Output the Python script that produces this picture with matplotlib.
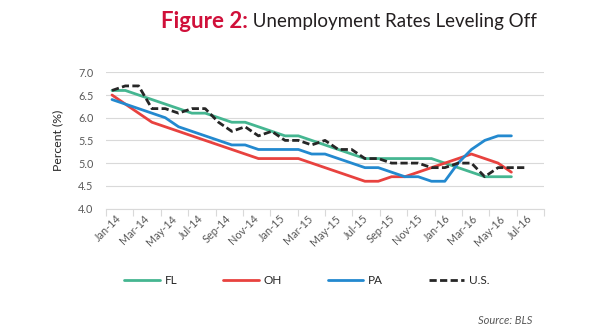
"""Unemployment rates chart: FL, OH, PA and U.S., Jan-14 to Aug-16."""

import matplotlib
import matplotlib.pyplot as plt
import numpy as np

matplotlib.use("Agg")

plt.rcParams["font.family"] = ["Lato", "DejaVu Sans"]

# monthly categories, Jan-14 .. Aug-16
MONTHS = [f"{m}-{y}" for y in ("14", "15", "16")
          for m in ("Jan", "Feb", "Mar", "Apr", "May", "Jun",
                    "Jul", "Aug", "Sep", "Oct", "Nov", "Dec")][:32]
TICK_LABELS = MONTHS[0:31:2]

FL = [6.6, 6.6, 6.5, 6.4, 6.3, 6.2, 6.1, 6.1, 6.0,
      5.9, 5.9, 5.8, 5.7, 5.6, 5.6, 5.5, 5.4, 5.3,
      5.2, 5.1, 5.1, 5.1, 5.1, 5.1, 5.1,
      5.0, 4.9, 4.8, 4.7, 4.7, 4.7]
OH = [6.5, 6.3, 6.1, 5.9, 5.8, 5.7, 5.6, 5.5, 5.4,
      5.3, 5.2, 5.1, 5.1, 5.1, 5.1,
      5.0, 4.9, 4.8, 4.7, 4.6, 4.6,
      4.7, 4.7, 4.8, 4.9, 5.0, 5.1, 5.2, 5.1, 5.0, 4.8]
PA = [6.4, 6.3, 6.2, 6.1, 6.0, 5.8, 5.7, 5.6, 5.5,
      5.4, 5.4, 5.3, 5.3, 5.3, 5.3,
      5.2, 5.2, 5.1, 5.0, 4.9, 4.9,
      4.8, 4.7, 4.7, 4.6, 4.6, 5.0, 5.3, 5.5, 5.6, 5.6]
US = [6.6, 6.7, 6.7, 6.2, 6.2, 6.1, 6.2, 6.2, 5.9,
      5.7, 5.8, 5.6, 5.7, 5.5, 5.5, 5.4, 5.5,
      5.3, 5.3, 5.1, 5.1, 5.0, 5.0, 5.0,
      4.9, 4.9, 5.0, 5.0, 4.7, 4.9, 4.9, 4.9]

SERIES = [
    ("FL", FL, "#45B691", "-"),
    ("OH", OH, "#E8423F", "-"),
    ("PA", PA, "#2389CF", "-"),
    ("U.S.", US, "#262626", "--"),
]

TEXT = "#595959"
GRID = "#D9D9D9"

fig = plt.figure(figsize=(5.96, 3.35), dpi=100)
ax = fig.add_axes([106 / 596, 1 - 208.5 / 335, 438 / 596, 136.2 / 335])

for name, values, color, style in SERIES:
    x = np.arange(len(values))
    line, = ax.plot(x, values, color=color, lw=2.0, ls=style, label=name,
                    solid_capstyle="round", dash_capstyle="butt")
    if style == "--":
        line.set_dashes((2.6, 1.2))

x0, x1 = -0.45, 32.45
ax.set_xlim(x0, x1)
ax.set_ylim(4.0, 7.0)

# tick marks every two months, labels centred between them
edges = np.linspace(x0, x1, 17)
ax.set_xticks(edges, minor=True)
ax.set_xticks((edges[:-1] + edges[1:]) / 2, TICK_LABELS)
ax.tick_params(axis="x", which="minor", length=5, color=GRID, width=0.8)
ax.tick_params(axis="x", which="major", length=0, pad=6, labelsize=7.8,
               labelcolor=TEXT)
for lab in ax.get_xticklabels():
    lab.set_rotation(45)
    lab.set_ha("right")
    lab.set_va("center")
    lab.set_rotation_mode("anchor")

ax.set_yticks(np.arange(4.0, 7.01, 0.5))
ax.set_yticklabels([f"{v:.1f}" for v in np.arange(4.0, 7.01, 0.5)])
ax.tick_params(axis="y", length=0, pad=9, labelsize=7.8, labelcolor=TEXT)
ax.grid(axis="y", color=GRID, lw=0.8)
ax.set_axisbelow(True)
for side in ("left", "right", "top"):
    ax.spines[side].set_visible(False)
ax.spines["bottom"].set_color(GRID)
ax.spines["bottom"].set_linewidth(0.8)

ax.set_ylabel("Percent (%)", fontsize=8.8, color="#262626", labelpad=11)

fig.legend(loc="center", bbox_to_anchor=(307 / 596, 1 - 281 / 335), ncol=4,
           frameon=False, fontsize=8.5, handlelength=3.0, handletextpad=0.4,
           columnspacing=3.9, labelcolor="#262626")

# title in two parts: red bold prefix and plain remainder
renderer = fig.canvas.get_renderer()
ty = 1 - 21 / 335
t1 = fig.text(0, ty, "Figure 2:", fontsize=16, fontweight="bold",
              color="#D0103A", va="center")
t2 = fig.text(0, ty, " Unemployment Rates Leveling Off", fontsize=13.5,
              color="#231F20", va="center")
w1 = t1.get_window_extent(renderer).width
w2 = t2.get_window_extent(renderer).width
start = 349 - (w1 + w2) / 2
t1.set_x(start / 596)
t2.set_x((start + w1) / 596)

fig.text(532 / 596, 1 - 321 / 335, "Source: BLS", fontsize=8, style="italic",
         color=TEXT, ha="right", va="center")

fig.savefig("out.png", dpi=100)
